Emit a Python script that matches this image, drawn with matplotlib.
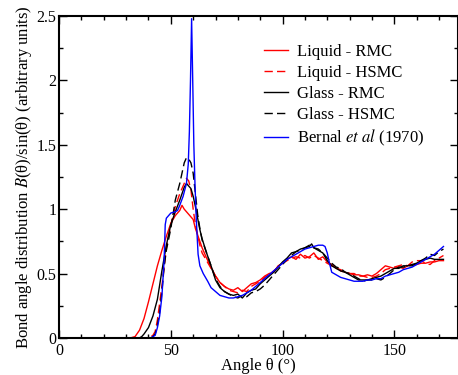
import matplotlib
matplotlib.use("Agg")
import matplotlib.pyplot as plt
from matplotlib.ticker import MultipleLocator

plt.rcParams['font.family'] = ['Liberation Serif', 'DejaVu Serif']
plt.rcParams['mathtext.fontset'] = 'stix'

# Liquid - RMC
liq_rmc_ang = [8, 32, 34, 36, 38, 40, 42, 44, 46, 48, 50, 52, 54, 55, 56, 58, 60, 61, 62, 64, 66, 68,
               70, 72, 74, 76, 78, 80, 82, 84, 86, 88, 90, 92, 94, 96, 98, 100, 102, 104, 106, 108,
               110, 112, 114, 116, 118, 120, 122, 124, 126, 128, 130, 132, 134, 136, 138, 140, 142,
               144, 146, 148, 150, 152, 154, 156, 158, 160, 162, 164, 166, 168, 170, 172]
liq_rmc_val = [0, 0, 0.01, 0.06, 0.15, 0.28, 0.42, 0.56, 0.68, 0.79, 0.89, 0.95, 0.99, 1.03, 1.00, 0.96,
               0.92, 0.85, 0.80, 0.70, 0.62, 0.55, 0.48, 0.43, 0.40, 0.38, 0.37, 0.39, 0.36, 0.39, 0.42,
               0.43, 0.45, 0.48, 0.50, 0.51, 0.56, 0.58, 0.61, 0.63, 0.61, 0.65, 0.62, 0.63, 0.66, 0.61,
               0.63, 0.59, 0.57, 0.54, 0.53, 0.51, 0.50, 0.49, 0.49, 0.48, 0.49, 0.48, 0.50, 0.53, 0.56,
               0.55, 0.54, 0.55, 0.54, 0.56, 0.57, 0.57, 0.58, 0.58, 0.59, 0.59, 0.60, 0.60]

# Liquid - HSMC
liq_hsmc_ang = [8, 40, 42, 43, 44, 46, 48, 50, 52, 54, 56, 57, 58, 59, 60, 61, 62, 63, 64, 66, 68,
                70, 72, 74, 76, 78, 80, 82, 84, 86, 88, 90, 92, 94, 96, 98, 100, 102, 104, 106, 108,
                110, 112, 114, 116, 118, 120, 122, 124, 126, 128, 130, 132, 134, 136, 138, 140, 142,
                144, 146, 148, 150, 152, 154, 156, 158, 160, 162, 164, 166, 168, 170, 172]
liq_hsmc_val = [0, 0, 0.02, 0.05, 0.14, 0.40, 0.70, 0.88, 1.02, 1.12, 1.20, 1.24, 1.22, 1.15, 1.00,
                0.88, 0.80, 0.72, 0.66, 0.60, 0.54, 0.48, 0.43, 0.40, 0.37, 0.36, 0.35, 0.37, 0.36,
                0.40, 0.42, 0.44, 0.47, 0.49, 0.52, 0.55, 0.58, 0.60, 0.62, 0.63, 0.62, 0.64, 0.62,
                0.64, 0.62, 0.60, 0.58, 0.56, 0.55, 0.52, 0.51, 0.50, 0.50, 0.48, 0.48, 0.47, 0.47,
                0.48, 0.50, 0.53, 0.54, 0.55, 0.56, 0.57, 0.56, 0.59, 0.60, 0.60, 0.58, 0.57, 0.60,
                0.62, 0.64]

# Glass - RMC
gl_rmc_ang = [8, 36, 37, 38, 40, 42, 44, 46, 48, 50, 52, 54, 55, 56, 57, 58, 59, 60, 61, 62, 63, 64,
              66, 68, 70, 72, 74, 76, 78, 80, 82, 84, 86, 88, 90, 92, 94, 96, 98, 100, 102, 104, 106,
              108, 110, 112, 113, 114, 116, 118, 120, 122, 124, 126, 128, 130, 132, 134, 136, 138,
              140, 142, 144, 146, 148, 150, 152, 154, 156, 158, 160, 162, 164, 166, 168, 170, 172]
gl_rmc_val = [0, 0, 0.01, 0.03, 0.08, 0.17, 0.30, 0.52, 0.72, 0.88, 0.98, 1.07, 1.12, 1.17, 1.20, 1.18,
              1.16, 1.10, 1.02, 0.93, 0.84, 0.77, 0.66, 0.56, 0.45, 0.39, 0.36, 0.34, 0.33, 0.34, 0.31,
              0.35, 0.37, 0.38, 0.42, 0.45, 0.48, 0.51, 0.55, 0.59, 0.62, 0.66, 0.67, 0.69, 0.70, 0.71,
              0.73, 0.70, 0.68, 0.66, 0.60, 0.56, 0.54, 0.52, 0.51, 0.49, 0.47, 0.45, 0.45, 0.45, 0.46,
              0.47, 0.48, 0.50, 0.52, 0.54, 0.54, 0.56, 0.56, 0.57, 0.58, 0.60, 0.61, 0.62, 0.61, 0.61,
              0.61]

# Glass - HSMC
gl_hsmc_ang = [8, 40, 42, 43, 44, 45, 46, 47, 48, 50, 52, 54, 55, 56, 57, 58, 59, 60, 61, 62, 63, 64,
               66, 68, 70, 72, 74, 76, 78, 80, 82, 84, 86, 88, 90, 92, 94, 96, 98, 100, 102, 104, 106,
               108, 110, 112, 114, 116, 118, 120, 122, 124, 126, 128, 130, 132, 134, 136, 138, 140,
               142, 144, 146, 148, 150, 152, 154, 156, 158, 160, 162, 164, 166, 168, 170, 172]
gl_hsmc_val = [0, 0, 0.01, 0.03, 0.10, 0.20, 0.36, 0.55, 0.68, 0.85, 1.07, 1.20, 1.28, 1.36, 1.40, 1.39,
               1.36, 1.28, 1.12, 0.96, 0.85, 0.76, 0.66, 0.56, 0.46, 0.40, 0.36, 0.34, 0.32, 0.31, 0.33,
               0.32, 0.35, 0.36, 0.38, 0.41, 0.45, 0.49, 0.53, 0.57, 0.61, 0.64, 0.67, 0.68, 0.70, 0.72,
               0.70, 0.69, 0.66, 0.62, 0.58, 0.55, 0.54, 0.51, 0.50, 0.48, 0.46, 0.44, 0.45, 0.45, 0.46,
               0.45, 0.47, 0.50, 0.53, 0.55, 0.55, 0.56, 0.56, 0.58, 0.60, 0.62, 0.65, 0.64, 0.67, 0.69]

# Bernal et al (1970)
bernal_ang = [8, 41, 43, 44, 45, 46, 47, 47.5, 48, 50, 52, 53, 54, 55.5, 57, 57.8, 58.3, 58.8, 59.3,
              59.8, 60.3, 60.8, 61.4, 62.2, 63, 64.5, 66.5, 68, 70, 72, 74, 76, 78, 80, 82, 84, 86,
              88, 90, 92, 94, 96, 98, 100, 102, 104, 106, 108, 110, 112, 114, 116, 118, 119, 120, 121,
              122, 124, 126, 128, 130, 132, 134, 136, 138, 140, 142, 144, 146, 148, 150, 152, 154,
              156, 158, 160, 162, 164, 166, 168, 170, 172]
bernal_val = [0, 0, 0.02, 0.08, 0.17, 0.32, 0.60, 0.88, 0.93, 0.97, 0.98, 0.99, 1.03, 1.10, 1.20, 1.35,
              1.60, 2.00, 2.48, 2.00, 1.50, 1.20, 0.92, 0.65, 0.56, 0.50, 0.44, 0.39, 0.36, 0.33, 0.32,
              0.31, 0.31, 0.32, 0.33, 0.35, 0.37, 0.40, 0.43, 0.46, 0.49, 0.52, 0.55, 0.58, 0.61, 0.63,
              0.65, 0.67, 0.69, 0.70, 0.71, 0.72, 0.72, 0.71, 0.66, 0.58, 0.51, 0.49, 0.47, 0.46, 0.45,
              0.44, 0.44, 0.44, 0.45, 0.45, 0.46, 0.46, 0.48, 0.49, 0.50, 0.51, 0.53, 0.54, 0.55, 0.57,
              0.59, 0.61, 0.63, 0.65, 0.68, 0.71]

fig = plt.figure(figsize=(4.58, 3.75), dpi=100)
ax = fig.add_axes([0.129, 0.099, 0.870, 0.858])

dash = (0, (6, 3))
ax.plot(liq_rmc_ang, liq_rmc_val, color='#ff0000', lw=1.0, label='Liquid - RMC')
ax.plot(liq_hsmc_ang, liq_hsmc_val, color='#ff0000', lw=1.0, ls=dash, label='Liquid - HSMC')
ax.plot(gl_rmc_ang, gl_rmc_val, color='black', lw=1.0, label='Glass - RMC')
ax.plot(gl_hsmc_ang, gl_hsmc_val, color='black', lw=1.0, ls=dash, label='Glass - HSMC')
ax.plot(bernal_ang, bernal_val, color='#0000ff', lw=1.0, label='Bernal $\\it{et\\ al}$ (1970)')

ax.set_xlim(0, 178.3)
ax.set_ylim(0, 2.5)
ax.xaxis.set_major_locator(MultipleLocator(50))
ax.xaxis.set_minor_locator(MultipleLocator(10))
ax.yaxis.set_major_locator(MultipleLocator(0.5))
ax.yaxis.set_minor_locator(MultipleLocator(0.25))
ax.set_yticks([0, 0.5, 1, 1.5, 2, 2.5])
ax.set_yticklabels(['0', '0.5', '1', '1.5', '2', '2.5'])
ax.tick_params(which='both', direction='in', top=True, right=True, labelsize=11.5)
ax.tick_params(which='major', length=6, width=1.0)
ax.tick_params(which='minor', length=3, width=1.0)
ax.tick_params(axis='y', pad=2)
for s in ax.spines.values():
    s.set_linewidth(1.5)

ax.set_xlabel('Angle θ (°)', fontsize=12, labelpad=-0.5)
ax.set_ylabel('Bond angle distribution $\\it{B}$(θ)/sin(θ) (arbitrary units)', fontsize=12, labelpad=2)

ax.legend(loc='upper left', bbox_to_anchor=(0.515, 0.913), frameon=False, fontsize=12,
          handlelength=1.4, handletextpad=0.55, labelspacing=0.3, borderpad=0, borderaxespad=0)

fig.savefig('out.png', dpi=100)
